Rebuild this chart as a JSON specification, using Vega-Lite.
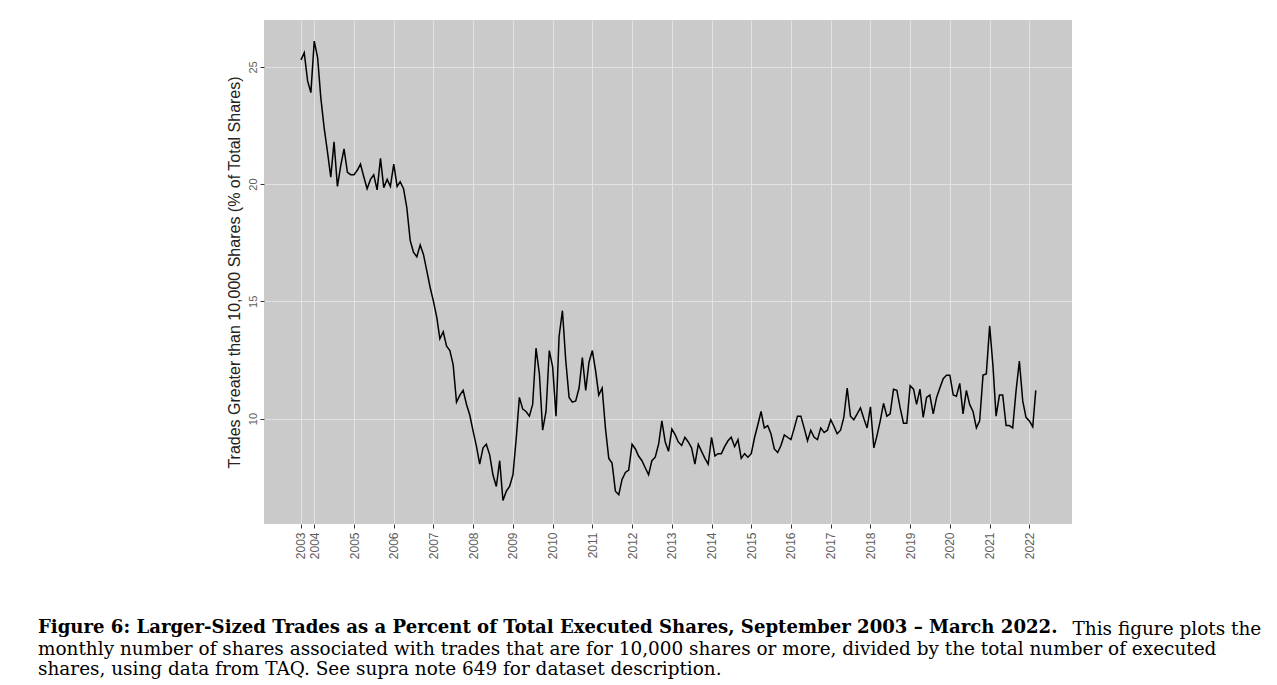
{
  "$schema": "https://vega.github.io/schema/vega-lite/v6.json",
  "autosize": {"type": "none"},
  "width": 808,
  "height": 504,
  "padding": {"left": 264, "top": 20, "right": 205, "bottom": 161},
  "background": "white",
  "config": {
    "view": {"fill": "#cacaca", "stroke": null},
    "axis": {
      "domain": false,
      "gridColor": "#e2e2e2",
      "gridWidth": 1,
      "tickColor": "#333333",
      "tickSize": 4,
      "labelColor": "#5e5e5e",
      "labelFont": "Liberation Sans",
      "titleFont": "Liberation Sans"
    }
  },
  "title": {
    "text": "Figure 6: Larger-Sized Trades as a Percent of Total Executed Shares, September 2003 – March 2022.",
    "subtitle": [
      "monthly number of shares associated with trades that are for 10,000 shares or more, divided by the total number of executed",
      "shares, using data from TAQ. See supra note 649 for dataset description."
    ],
    "orient": "bottom",
    "anchor": "start",
    "frame": "group",
    "dx": -226,
    "offset": -18.6,
    "font": "DejaVu Serif",
    "fontSize": 18.1,
    "fontWeight": "bold",
    "color": "black",
    "subtitleFont": "DejaVu Serif",
    "subtitleFontSize": 18.45,
    "subtitleFontWeight": "normal",
    "subtitleColor": "black",
    "subtitleLineHeight": 20.5,
    "subtitlePadding": 2.6
  },
  "data": {
    "values": [
      {"date": "2003-09-01", "pct": 25.3}, {"date": "2003-10-01", "pct": 25.6}, {"date": "2003-11-01", "pct": 24.4}, {"date": "2003-12-01", "pct": 23.9},
      {"date": "2004-01-01", "pct": 26.1}, {"date": "2004-02-01", "pct": 25.4}, {"date": "2004-03-01", "pct": 23.7}, {"date": "2004-04-01", "pct": 22.4}, {"date": "2004-05-01", "pct": 21.4}, {"date": "2004-06-01", "pct": 20.3}, {"date": "2004-07-01", "pct": 21.8}, {"date": "2004-08-01", "pct": 19.9}, {"date": "2004-09-01", "pct": 20.8}, {"date": "2004-10-01", "pct": 21.5}, {"date": "2004-11-01", "pct": 20.5}, {"date": "2004-12-01", "pct": 20.4},
      {"date": "2005-01-01", "pct": 20.4}, {"date": "2005-02-01", "pct": 20.6}, {"date": "2005-03-01", "pct": 20.85}, {"date": "2005-04-01", "pct": 20.3}, {"date": "2005-05-01", "pct": 19.8}, {"date": "2005-06-01", "pct": 20.2}, {"date": "2005-07-01", "pct": 20.4}, {"date": "2005-08-01", "pct": 19.75}, {"date": "2005-09-01", "pct": 21.1}, {"date": "2005-10-01", "pct": 19.85}, {"date": "2005-11-01", "pct": 20.2}, {"date": "2005-12-01", "pct": 19.9},
      {"date": "2006-01-01", "pct": 20.85}, {"date": "2006-02-01", "pct": 19.9}, {"date": "2006-03-01", "pct": 20.1}, {"date": "2006-04-01", "pct": 19.8}, {"date": "2006-05-01", "pct": 19.0}, {"date": "2006-06-01", "pct": 17.6}, {"date": "2006-07-01", "pct": 17.1}, {"date": "2006-08-01", "pct": 16.9}, {"date": "2006-09-01", "pct": 17.4}, {"date": "2006-10-01", "pct": 17.0}, {"date": "2006-11-01", "pct": 16.3}, {"date": "2006-12-01", "pct": 15.6},
      {"date": "2007-01-01", "pct": 15.0}, {"date": "2007-02-01", "pct": 14.3}, {"date": "2007-03-01", "pct": 13.4}, {"date": "2007-04-01", "pct": 13.7}, {"date": "2007-05-01", "pct": 13.1}, {"date": "2007-06-01", "pct": 12.9}, {"date": "2007-07-01", "pct": 12.3}, {"date": "2007-08-01", "pct": 10.7}, {"date": "2007-09-01", "pct": 11.0}, {"date": "2007-10-01", "pct": 11.2}, {"date": "2007-11-01", "pct": 10.6}, {"date": "2007-12-01", "pct": 10.15},
      {"date": "2008-01-01", "pct": 9.45}, {"date": "2008-02-01", "pct": 8.8}, {"date": "2008-03-01", "pct": 8.05}, {"date": "2008-04-01", "pct": 8.75}, {"date": "2008-05-01", "pct": 8.9}, {"date": "2008-06-01", "pct": 8.45}, {"date": "2008-07-01", "pct": 7.6}, {"date": "2008-08-01", "pct": 7.1}, {"date": "2008-09-01", "pct": 8.2}, {"date": "2008-10-01", "pct": 6.5}, {"date": "2008-11-01", "pct": 6.9}, {"date": "2008-12-01", "pct": 7.1},
      {"date": "2009-01-01", "pct": 7.6}, {"date": "2009-02-01", "pct": 9.2}, {"date": "2009-03-01", "pct": 10.9}, {"date": "2009-04-01", "pct": 10.4}, {"date": "2009-05-01", "pct": 10.3}, {"date": "2009-06-01", "pct": 10.1}, {"date": "2009-07-01", "pct": 10.6}, {"date": "2009-08-01", "pct": 13.0}, {"date": "2009-09-01", "pct": 11.9}, {"date": "2009-10-01", "pct": 9.5}, {"date": "2009-11-01", "pct": 10.3}, {"date": "2009-12-01", "pct": 12.9},
      {"date": "2010-01-01", "pct": 12.2}, {"date": "2010-02-01", "pct": 10.1}, {"date": "2010-03-01", "pct": 13.5}, {"date": "2010-04-01", "pct": 14.6}, {"date": "2010-05-01", "pct": 12.5}, {"date": "2010-06-01", "pct": 10.9}, {"date": "2010-07-01", "pct": 10.7}, {"date": "2010-08-01", "pct": 10.75}, {"date": "2010-09-01", "pct": 11.3}, {"date": "2010-10-01", "pct": 12.6}, {"date": "2010-11-01", "pct": 11.2}, {"date": "2010-12-01", "pct": 12.4},
      {"date": "2011-01-01", "pct": 12.9}, {"date": "2011-02-01", "pct": 12.0}, {"date": "2011-03-01", "pct": 11.0}, {"date": "2011-04-01", "pct": 11.3}, {"date": "2011-05-01", "pct": 9.6}, {"date": "2011-06-01", "pct": 8.3}, {"date": "2011-07-01", "pct": 8.1}, {"date": "2011-08-01", "pct": 6.9}, {"date": "2011-09-01", "pct": 6.75}, {"date": "2011-10-01", "pct": 7.4}, {"date": "2011-11-01", "pct": 7.7}, {"date": "2011-12-01", "pct": 7.8},
      {"date": "2012-01-01", "pct": 8.9}, {"date": "2012-02-01", "pct": 8.7}, {"date": "2012-03-01", "pct": 8.4}, {"date": "2012-04-01", "pct": 8.2}, {"date": "2012-05-01", "pct": 7.9}, {"date": "2012-06-01", "pct": 7.6}, {"date": "2012-07-01", "pct": 8.2}, {"date": "2012-08-01", "pct": 8.35}, {"date": "2012-09-01", "pct": 8.9}, {"date": "2012-10-01", "pct": 9.9}, {"date": "2012-11-01", "pct": 9.0}, {"date": "2012-12-01", "pct": 8.6},
      {"date": "2013-01-01", "pct": 9.55}, {"date": "2013-02-01", "pct": 9.3}, {"date": "2013-03-01", "pct": 9.0}, {"date": "2013-04-01", "pct": 8.85}, {"date": "2013-05-01", "pct": 9.2}, {"date": "2013-06-01", "pct": 9.0}, {"date": "2013-07-01", "pct": 8.75}, {"date": "2013-08-01", "pct": 8.05}, {"date": "2013-09-01", "pct": 8.9}, {"date": "2013-10-01", "pct": 8.6}, {"date": "2013-11-01", "pct": 8.3}, {"date": "2013-12-01", "pct": 8.05},
      {"date": "2014-01-01", "pct": 9.2}, {"date": "2014-02-01", "pct": 8.4}, {"date": "2014-03-01", "pct": 8.5}, {"date": "2014-04-01", "pct": 8.5}, {"date": "2014-05-01", "pct": 8.8}, {"date": "2014-06-01", "pct": 9.05}, {"date": "2014-07-01", "pct": 9.2}, {"date": "2014-08-01", "pct": 8.8}, {"date": "2014-09-01", "pct": 9.1}, {"date": "2014-10-01", "pct": 8.3}, {"date": "2014-11-01", "pct": 8.5}, {"date": "2014-12-01", "pct": 8.35},
      {"date": "2015-01-01", "pct": 8.5}, {"date": "2015-02-01", "pct": 9.2}, {"date": "2015-03-01", "pct": 9.7}, {"date": "2015-04-01", "pct": 10.3}, {"date": "2015-05-01", "pct": 9.6}, {"date": "2015-06-01", "pct": 9.7}, {"date": "2015-07-01", "pct": 9.35}, {"date": "2015-08-01", "pct": 8.7}, {"date": "2015-09-01", "pct": 8.55}, {"date": "2015-10-01", "pct": 8.85}, {"date": "2015-11-01", "pct": 9.3}, {"date": "2015-12-01", "pct": 9.2},
      {"date": "2016-01-01", "pct": 9.1}, {"date": "2016-02-01", "pct": 9.6}, {"date": "2016-03-01", "pct": 10.1}, {"date": "2016-04-01", "pct": 10.1}, {"date": "2016-05-01", "pct": 9.6}, {"date": "2016-06-01", "pct": 9.05}, {"date": "2016-07-01", "pct": 9.5}, {"date": "2016-08-01", "pct": 9.2}, {"date": "2016-09-01", "pct": 9.1}, {"date": "2016-10-01", "pct": 9.6}, {"date": "2016-11-01", "pct": 9.4}, {"date": "2016-12-01", "pct": 9.5},
      {"date": "2017-01-01", "pct": 9.95}, {"date": "2017-02-01", "pct": 9.65}, {"date": "2017-03-01", "pct": 9.35}, {"date": "2017-04-01", "pct": 9.5}, {"date": "2017-05-01", "pct": 10.05}, {"date": "2017-06-01", "pct": 11.3}, {"date": "2017-07-01", "pct": 10.1}, {"date": "2017-08-01", "pct": 9.95}, {"date": "2017-09-01", "pct": 10.2}, {"date": "2017-10-01", "pct": 10.45}, {"date": "2017-11-01", "pct": 10.0}, {"date": "2017-12-01", "pct": 9.6},
      {"date": "2018-01-01", "pct": 10.5}, {"date": "2018-02-01", "pct": 8.75}, {"date": "2018-03-01", "pct": 9.25}, {"date": "2018-04-01", "pct": 9.9}, {"date": "2018-05-01", "pct": 10.65}, {"date": "2018-06-01", "pct": 10.1}, {"date": "2018-07-01", "pct": 10.2}, {"date": "2018-08-01", "pct": 11.25}, {"date": "2018-09-01", "pct": 11.2}, {"date": "2018-10-01", "pct": 10.45}, {"date": "2018-11-01", "pct": 9.8}, {"date": "2018-12-01", "pct": 9.8},
      {"date": "2019-01-01", "pct": 11.4}, {"date": "2019-02-01", "pct": 11.25}, {"date": "2019-03-01", "pct": 10.6}, {"date": "2019-04-01", "pct": 11.25}, {"date": "2019-05-01", "pct": 10.05}, {"date": "2019-06-01", "pct": 10.9}, {"date": "2019-07-01", "pct": 11.0}, {"date": "2019-08-01", "pct": 10.2}, {"date": "2019-09-01", "pct": 10.9}, {"date": "2019-10-01", "pct": 11.3}, {"date": "2019-11-01", "pct": 11.7}, {"date": "2019-12-01", "pct": 11.85},
      {"date": "2020-01-01", "pct": 11.85}, {"date": "2020-02-01", "pct": 11.0}, {"date": "2020-03-01", "pct": 10.95}, {"date": "2020-04-01", "pct": 11.5}, {"date": "2020-05-01", "pct": 10.2}, {"date": "2020-06-01", "pct": 11.2}, {"date": "2020-07-01", "pct": 10.6}, {"date": "2020-08-01", "pct": 10.3}, {"date": "2020-09-01", "pct": 9.6}, {"date": "2020-10-01", "pct": 9.9}, {"date": "2020-11-01", "pct": 11.85}, {"date": "2020-12-01", "pct": 11.9},
      {"date": "2021-01-01", "pct": 13.95}, {"date": "2021-02-01", "pct": 12.2}, {"date": "2021-03-01", "pct": 10.1}, {"date": "2021-04-01", "pct": 11.0}, {"date": "2021-05-01", "pct": 11.0}, {"date": "2021-06-01", "pct": 9.7}, {"date": "2021-07-01", "pct": 9.7}, {"date": "2021-08-01", "pct": 9.6}, {"date": "2021-09-01", "pct": 11.2}, {"date": "2021-10-01", "pct": 12.45}, {"date": "2021-11-01", "pct": 10.75}, {"date": "2021-12-01", "pct": 10.05},
      {"date": "2022-01-01", "pct": 9.9}, {"date": "2022-02-01", "pct": 9.65}, {"date": "2022-03-01", "pct": 11.2}
    ]
  },
  "mark": {"type": "line", "color": "black", "strokeWidth": 1.5},
  "encoding": {
    "x": {
      "field": "date",
      "type": "temporal",
      "title": "This figure plots the",
      "scale": {
        "type": "utc",
        "domain": [
          {"year": 2002, "month": 9, "date": 26, "utc": true},
          {"year": 2023, "month": 1, "date": 28, "utc": true}
        ]
      },
      "axis": {
        "values": [
          {"year": 2003, "month": 9, "date": 1, "utc": true},
          {"year": 2004, "month": 1, "date": 1, "utc": true},
          {"year": 2005, "month": 1, "date": 1, "utc": true},
          {"year": 2006, "month": 1, "date": 1, "utc": true},
          {"year": 2007, "month": 1, "date": 1, "utc": true},
          {"year": 2008, "month": 1, "date": 1, "utc": true},
          {"year": 2009, "month": 1, "date": 1, "utc": true},
          {"year": 2010, "month": 1, "date": 1, "utc": true},
          {"year": 2011, "month": 1, "date": 1, "utc": true},
          {"year": 2012, "month": 1, "date": 1, "utc": true},
          {"year": 2013, "month": 1, "date": 1, "utc": true},
          {"year": 2014, "month": 1, "date": 1, "utc": true},
          {"year": 2015, "month": 1, "date": 1, "utc": true},
          {"year": 2016, "month": 1, "date": 1, "utc": true},
          {"year": 2017, "month": 1, "date": 1, "utc": true},
          {"year": 2018, "month": 1, "date": 1, "utc": true},
          {"year": 2019, "month": 1, "date": 1, "utc": true},
          {"year": 2020, "month": 1, "date": 1, "utc": true},
          {"year": 2021, "month": 1, "date": 1, "utc": true},
          {"year": 2022, "month": 1, "date": 1, "utc": true}
        ],
        "format": "%Y",
        "labelAngle": 270,
        "labelAlign": "right",
        "labelBaseline": "middle",
        "labelPadding": 4,
        "labelFontSize": 12,
        "labelOverlap": false,
        "labelFlush": false,
        "grid": true,
        "titleX": 808,
        "titleY": 110,
        "titleAngle": 0,
        "titleAlign": "left",
        "titleBaseline": "alphabetic",
        "titleFont": "DejaVu Serif",
        "titleFontSize": 18.45,
        "titleFontWeight": "normal",
        "titleColor": "black"
      }
    },
    "y": {
      "field": "pct",
      "type": "quantitative",
      "title": "Trades Greater than 10,000 Shares (% of Total Shares)",
      "scale": {"domain": [5.5, 27.0], "zero": false, "nice": false},
      "axis": {
        "values": [10, 15, 20, 25],
        "labelAngle": 270,
        "labelAlign": "center",
        "labelBaseline": "bottom",
        "labelPadding": 2,
        "labelFontSize": 11,
        "grid": true,
        "titleX": -30,
        "titleY": 252,
        "titleAngle": 270,
        "titleAlign": "center",
        "titleBaseline": "middle",
        "titleFontSize": 16,
        "titleFontWeight": "normal",
        "titleColor": "#222222"
      }
    }
  }
}
